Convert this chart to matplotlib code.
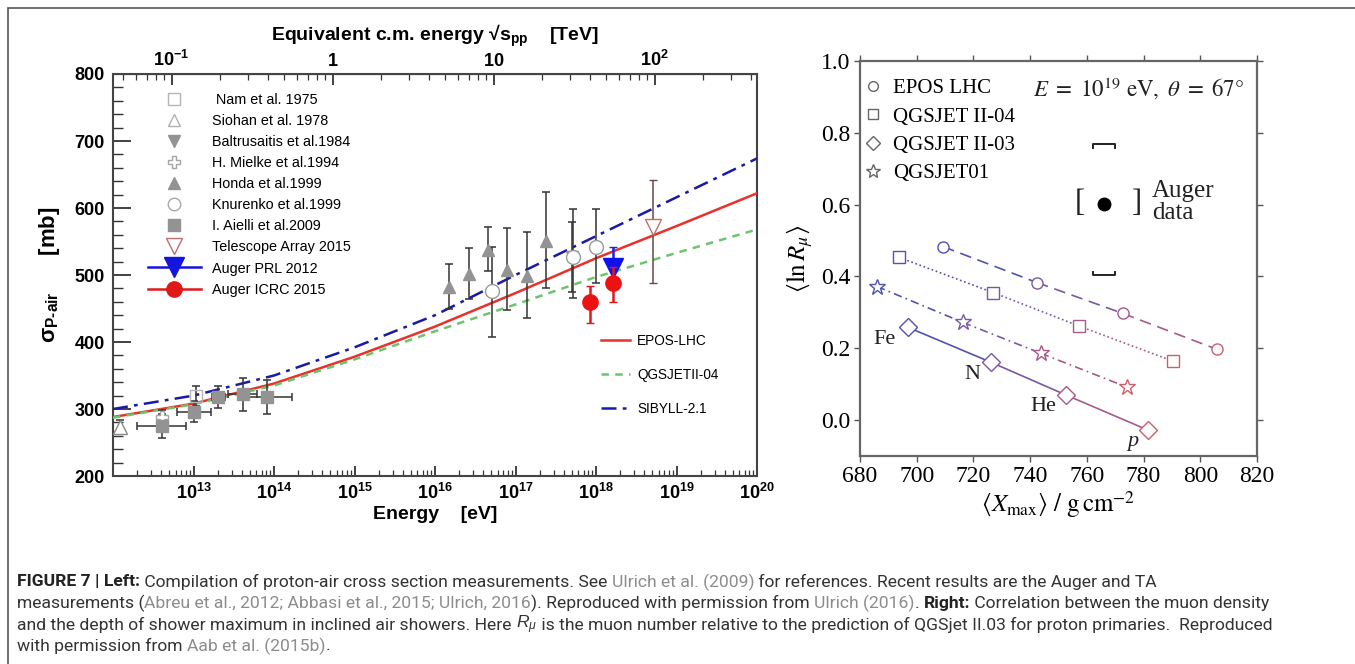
import matplotlib
matplotlib.use('Agg')
import matplotlib.pyplot as plt
from matplotlib.lines import Line2D
from matplotlib.patches import Rectangle
from matplotlib.ticker import LogLocator, NullFormatter, MultipleLocator
import numpy as np

plt.rcParams['font.family'] = ['Liberation Sans', 'DejaVu Sans']
plt.rcParams['mathtext.fontset'] = 'custom'
plt.rcParams['mathtext.rm'] = 'Liberation Sans'
plt.rcParams['mathtext.bf'] = 'Liberation Sans:bold'
plt.rcParams['mathtext.it'] = 'Liberation Sans:italic'

# ---------------- left panel: proton-air cross section ----------------
model_logE = [12, 13, 14, 15, 16, 17, 18, 19, 20]
epos_lhc = [288, 308, 338, 378, 423, 473, 525, 573, 622]
qgsjet_ii04 = [287, 307, 335, 374, 416, 456, 497, 533, 568]
sibyll_21 = [300, 320, 350, 392, 440, 500, 558, 616, 674]

nam_logE = [13.03]
nam_sig = [320]
nam_err = [15]

siohan_logE = [12.09]
siohan_sig = [273]
siohan_err = [11]

baltrusaitis_logE = [17.70]
baltrusaitis_sig = [527]
baltrusaitis_err = [52]

mielke_logE = [12.61]
mielke_sig = [288]
mielke_err = [10]

honda_logE = [16.17, 16.42, 16.66, 16.89, 17.14, 17.38]
honda_sig = [482, 501, 537, 507, 498, 551]
honda_lo = [33, 37, 31, 59, 62, 71]
honda_hi = [34, 39, 35, 63, 66, 73]

knurenko_logE = [16.71, 17.72, 18.00]
knurenko_sig = [476, 527, 542]
knurenko_lo = [68, 61, 54]
knurenko_hi = [66, 71, 56]

aielli_logE = [12.61, 13.01, 13.31, 13.61, 13.91]
aielli_sig = [275, 296, 318, 322, 318]
aielli_err = [18, 16, 16, 25, 26]
aielli_logE_lo = [12.30, 12.80, 13.23, 13.43, 13.61]
aielli_logE_hi = [12.91, 13.22, 13.39, 13.79, 14.22]

ta_logE = [18.71]
ta_sig = [572]
ta_lo = [84]
ta_hi = [70]

auger_prl_logE = [18.21]
auger_prl_sig = [510]
auger_prl_lo = [22]
auger_prl_hi = [32]

auger_icrc_logE = [17.92, 18.21]
auger_icrc_sig = [460, 488]
auger_icrc_lo = [32, 28]
auger_icrc_hi = [24, 24]

# ---------------- right panel: muon content vs Xmax ----------------
primaries = ['Fe', 'N', 'He', 'p']
epos_xmax = [709.3, 742.4, 772.7, 805.9]
epos_lnr = [0.483, 0.383, 0.297, 0.197]
qii04_xmax = [693.8, 727.0, 757.2, 790.4]
qii04_lnr = [0.453, 0.355, 0.262, 0.164]
qii03_xmax = [697.0, 726.2, 752.6, 781.6]
qii03_lnr = [0.258, 0.161, 0.070, -0.028]
q01_xmax = [686.0, 716.3, 743.8, 774.1]
q01_lnr = [0.372, 0.272, 0.186, 0.092]
label_xmax = [688.8, 719.8, 744.5, 776.3]
label_lnr = [0.225, 0.128, 0.039, -0.06]

auger_xmax = 766.0
auger_lnr = 0.603
auger_lnr_sys = [0.403, 0.769]
auger_xmax_sys = [757.6, 777.7]

fig = plt.figure(figsize=(13.55, 6.64), dpi=100)
W, H = 1355.0, 664.0

# frame around figure
fig.add_artist(Rectangle((8 / W, -0.1), 1.2, 1.1 - 8 / H, transform=fig.transFigure,
                         fill=False, edgecolor='#555555', lw=1.2))

# ======== left ========
ax = fig.add_axes([113 / W, 1 - 476 / H, 644 / W, 402 / H])
E = lambda lg: 10.0 ** np.asarray(lg)

ax.plot(E(model_logE), epos_lhc, '-', color='#e8312a', lw=1.8, zorder=3)
ax.plot(E(model_logE), qgsjet_ii04, '--', color='#6cc46c', lw=1.8, dashes=(3, 2.5), zorder=3)
ax.plot(E(model_logE), sibyll_21, '-.', color='#1a1aa8', lw=1.8, dashes=(6, 2.5, 1.5, 2.5), zorder=4)

ebar = dict(fmt='none', ecolor='#333333', elinewidth=1.1, capsize=3, capthick=1.1, zorder=5)
gray = '#939393'
ax.errorbar(E(nam_logE), nam_sig, yerr=nam_err, **ebar)
ax.plot(E(nam_logE), nam_sig, 's', mfc='none', mec='#b5b5b5', ms=8, zorder=6)
ax.errorbar(E(siohan_logE), siohan_sig, yerr=siohan_err, **ebar)
ax.plot(E(siohan_logE), siohan_sig, '^', mfc='white', mec='#8a8a8a', ms=10, zorder=6)
ax.errorbar(E(baltrusaitis_logE), baltrusaitis_sig, yerr=baltrusaitis_err, **ebar)
ax.plot(E(baltrusaitis_logE), baltrusaitis_sig, 'v', color=gray, ms=8, zorder=6)
ax.errorbar(E(mielke_logE), mielke_sig, yerr=mielke_err, **ebar)
ax.plot(E(mielke_logE), mielke_sig, 'P', mfc='white', mec='#a5a5a5', ms=9, zorder=6)
ax.errorbar(E(honda_logE), honda_sig, yerr=[honda_lo, honda_hi], **ebar)
ax.plot(E(honda_logE), honda_sig, '^', color=gray, ms=8, zorder=6)
ax.errorbar(E(knurenko_logE), knurenko_sig, yerr=[knurenko_lo, knurenko_hi], **ebar)
ax.plot(E(knurenko_logE), knurenko_sig, 'o', mfc='white', mec='#9a9a9a', ms=10, zorder=7)
a_x = E(aielli_logE)
ax.errorbar(a_x, aielli_sig, yerr=aielli_err,
            xerr=[a_x - E(aielli_logE_lo), E(aielli_logE_hi) - a_x], **ebar)
ax.plot(a_x, aielli_sig, 's', color=gray, ms=9, zorder=6)
ax.errorbar(E(ta_logE), ta_sig, yerr=[ta_lo, ta_hi], fmt='none', ecolor='#6a4a40',
            elinewidth=1.1, capsize=3, zorder=5)
ax.plot(E(ta_logE), ta_sig, 'v', mfc='white', mec='#c07070', ms=11, zorder=6)
ax.errorbar(E(auger_prl_logE), auger_prl_sig, yerr=[auger_prl_lo, auger_prl_hi], fmt='none',
            ecolor='#2020e0', elinewidth=1.8, capsize=3, zorder=5)
ax.plot(E(auger_prl_logE), auger_prl_sig, 'v', color='#1010ee', ms=14, zorder=6)
ax.errorbar(E(auger_icrc_logE), auger_icrc_sig, yerr=[auger_icrc_lo, auger_icrc_hi], fmt='none',
            ecolor='#e01818', elinewidth=1.8, capsize=3, zorder=7)
ax.plot(E(auger_icrc_logE), auger_icrc_sig, 'o', color='#ee1111', ms=11, zorder=8)

ax.set_xscale('log')
ax.set_xlim(1e12, 1e20)
ax.set_ylim(200, 800)
ax.set_xticks([10.0 ** k for k in range(13, 21)],
              [r'$\mathbf{10^{%d}}$' % k for k in range(13, 21)])
ax.xaxis.set_minor_locator(LogLocator(base=10, subs=np.arange(2, 10), numticks=20))
ax.xaxis.set_minor_formatter(NullFormatter())
ax.set_yticks(range(200, 801, 100))
ax.yaxis.set_minor_locator(MultipleLocator(20))
for lab in ax.get_yticklabels():
    lab.set_fontweight('bold')
ax.tick_params(axis='both', which='both', direction='in', top=False, right=False,
               labelsize=13, color='#333333')
ax.tick_params(axis='y', which='major', length=13, width=1.3, pad=6)
ax.tick_params(axis='y', which='minor', length=7, width=1.0)
ax.tick_params(axis='x', which='major', length=7, width=1.3, pad=5)
ax.tick_params(axis='x', which='minor', length=4, width=0.9)
for s in ax.spines.values():
    s.set_color('#444444')
    s.set_linewidth(1.5)
ax.set_xlabel('Energy    [eV]', fontsize=14, fontweight='bold', labelpad=2)
ax.set_ylabel('σ$_{\\mathbf{P‐air}}$      [mb]', fontsize=16, fontweight='bold', labelpad=9)

to_s = lambda e: np.sqrt(2 * 0.938e9 * np.clip(e, 1e-30, None)) / 1e12
to_e = lambda s: (np.asarray(s) * 1e12) ** 2 / (2 * 0.938e9)
sec = ax.secondary_xaxis('top', functions=(to_s, to_e))
sec.set_xticks([0.1, 1, 10, 100], [r'$\mathbf{10^{-1}}$', r'$\mathbf{1}$', r'$\mathbf{10}$',
                                   r'$\mathbf{10^{2}}$'])
sec.xaxis.set_minor_locator(LogLocator(base=10, subs=np.arange(2, 10), numticks=20))
sec.xaxis.set_minor_formatter(NullFormatter())
sec.tick_params(which='both', direction='in', labelsize=13, color='#333333')
sec.tick_params(which='major', length=8, width=1.3, pad=3)
sec.tick_params(which='minor', length=4, width=0.9)
sec.set_xlabel('Equivalent c.m. energy √s$_{\\mathbf{pp}}$    [TeV]', fontsize=14,
               fontweight='bold', labelpad=6)

h_data = [
    Line2D([], [], ls='none', marker='s', mfc='none', mec='#b5b5b5', ms=8),
    Line2D([], [], ls='none', marker='^', mfc='white', mec='#b0b0b0', ms=9),
    Line2D([], [], ls='none', marker='v', color=gray, ms=8),
    Line2D([], [], ls='none', marker='P', mfc='white', mec='#a5a5a5', ms=9),
    Line2D([], [], ls='none', marker='^', color=gray, ms=8),
    Line2D([], [], ls='none', marker='o', mfc='white', mec='#a8a8a8', ms=9),
    Line2D([], [], ls='none', marker='s', color=gray, ms=8),
    Line2D([], [], ls='none', marker='v', mfc='white', mec='#c07070', ms=11),
    Line2D([], [], color='#1515e0', lw=1.8, marker='v', ms=14),
    Line2D([], [], color='#e01818', lw=1.8, marker='o', ms=11),
]
l_data = [' Nam et al. 1975', 'Siohan et al. 1978', 'Baltrusaitis et al.1984',
          'H. Mielke et al.1994', 'Honda et al.1999', 'Knurenko et al.1999',
          'I. Aielli et al.2009', 'Telescope Array 2015', 'Auger PRL 2012', 'Auger ICRC 2015']
leg1 = ax.legend(h_data, l_data, loc='upper left', bbox_to_anchor=(0.054, 0.953), frameon=False,
                 fontsize=10.4, handlelength=3.7, handletextpad=0.75, labelspacing=0.49,
                 borderpad=0, borderaxespad=0)
ax.add_artist(leg1)
h_mod = [Line2D([], [], color='#e8312a', lw=1.8),
         Line2D([], [], color='#6cc46c', lw=1.8, ls='--', dashes=(3, 2.5)),
         Line2D([], [], color='#1a1aa8', lw=1.8, ls='-.', dashes=(6, 2.5, 1.5, 2.5))]
ax.legend(h_mod, ['EPOS-LHC', 'QGSJETII-04', 'SIBYLL-2.1'], loc='upper left',
          bbox_to_anchor=(0.757, 0.353), frameon=False, fontsize=9.8, handlelength=2.2,
          handletextpad=0.5, labelspacing=1.45, borderpad=0, borderaxespad=0)

# ======== right ========
serif = ['Liberation Serif', 'DejaVu Serif']
ax2 = fig.add_axes([860 / W, 1 - 456 / H, 397 / W, 395 / H])
pt_col = ['#5252b0', '#7a58a2', '#a85a88', '#d05e6a']
series = [
    (epos_xmax, epos_lnr, 'o', 8, (0, (7, 4))),
    (qii04_xmax, qii04_lnr, 's', 8, (0, (1, 1.6))),
    (qii03_xmax, qii03_lnr, 'D', 9, '-'),
    (q01_xmax, q01_lnr, '*', 12, (0, (5, 2.5, 1, 2.5))),
]
for xs, ys, mk, ms, ls in series:
    for i in range(len(xs) - 1):
        ax2.plot(xs[i:i + 2], ys[i:i + 2], ls=ls, color=pt_col[i], lw=1.2, zorder=2)
    for i in range(len(xs)):
        ax2.plot(xs[i], ys[i], marker=mk, ms=ms, mfc='white', mec=pt_col[i], mew=1.0,
                 ls='none', zorder=3)
for i, name in enumerate(primaries):
    ax2.text(label_xmax[i], label_lnr[i], name, fontsize=16, family=serif,
             style='italic' if name == 'p' else 'normal', ha='center', va='center',
             color='#222222')

ax2.plot(auger_xmax, auger_lnr, 'o', color='black', ms=9, zorder=4)
for yv, d in [(auger_lnr_sys[1], -0.012), (auger_lnr_sys[0], 0.010)]:
    ax2.plot([auger_xmax - 4, auger_xmax - 4, auger_xmax + 4, auger_xmax + 4],
             [yv + d, yv, yv, yv + d], color='#222222', lw=1.4)
ax2.text(auger_xmax_sys[0], auger_lnr, '[', fontsize=22, family=serif, ha='center',
         va='center', color='#222222')
ax2.text(auger_xmax_sys[1], auger_lnr, ']', fontsize=22, family=serif, ha='center',
         va='center', color='#222222')
ax2.text(783, auger_lnr + 0.003, 'Auger\ndata', fontsize=18, family=serif, ha='left',
         va='center', linespacing=1.0, color='#222222')
ax2.text(815.5, 0.925, r'$E\ =\ 10^{19}\ \mathrm{eV},\ \theta\ =\ 67°$', fontsize=16.5,
         ha='right', va='center', math_fontfamily='stix', color='#222222')

ax2.set_xlim(680, 820)
ax2.set_ylim(-0.1, 1.0)
ax2.set_xticks(range(680, 821, 20))
ax2.set_yticks([0.0, 0.2, 0.4, 0.6, 0.8, 1.0], ['0.0', '0.2', '0.4', '0.6', '0.8', '1.0'])
ax2.tick_params(direction='out', length=4, width=1.0, top=True, right=True,
                labelsize=17, color='#555555', pad=3)
for lab in ax2.get_xticklabels() + ax2.get_yticklabels():
    lab.set_family(serif)
for s in ax2.spines.values():
    s.set_color('#666666')
    s.set_linewidth(1.6)
ax2.set_xlabel(r'$\langle X_{\mathrm{max}} \rangle\ /\ \mathrm{g\,cm}^{-2}$', fontsize=18,
               math_fontfamily='stix', labelpad=2)
ax2.set_ylabel(r'$\langle \ln R_{\mu} \rangle$', fontsize=18, math_fontfamily='stix',
               labelpad=4)

mk_col = '#666666'
h_r = [Line2D([], [], ls='none', marker='o', ms=7, mfc='white', mec=mk_col),
       Line2D([], [], ls='none', marker='s', ms=7, mfc='white', mec=mk_col),
       Line2D([], [], ls='none', marker='D', ms=7, mfc='white', mec=mk_col),
       Line2D([], [], ls='none', marker='*', ms=10, mfc='white', mec=mk_col)]
ax2.legend(h_r, ['EPOS LHC', 'QGSJET II-04', 'QGSJET II-03', 'QGSJET01'], loc='upper left',
           bbox_to_anchor=(0.01, 0.955), frameon=False, handlelength=0.9, handletextpad=0.5,
           labelspacing=0.42, borderpad=0, borderaxespad=0,
           prop={'family': serif, 'size': 15})

# ======== caption ========
renderer = fig.canvas.get_renderer()
cap_font = ['Roboto', 'Liberation Sans', 'DejaVu Sans']
cap_size = 12.6
N, B, L = '#333333', 'bold', '#8c8c8c'
caption = [
    [('FIGURE 7 | Left:', B), (' Compilation of proton-air cross section measurements. See ', N),
     ('Ulrich et al. (2009)', L), (' for references. Recent results are the Auger and TA', N)],
    [('measurements (', N), ('Abreu et al., 2012; Abbasi et al., 2015; Ulrich, 2016', L),
     ('). Reproduced with permission from ', N), ('Ulrich (2016)', L), ('. ', N),
     ('Right:', B), (' Correlation between the muon density', N)],
    [('and the depth of shower maximum in inclined air showers. Here ', N), (r'$R_\mu$', N),
     (' is the muon number relative to the prediction of QGSjet II.03 for proton primaries.  '
      'Reproduced', N)],
    [('with permission from ', N), ('Aab et al. (2015b)', L), ('.', N)],
]
for row, parts in enumerate(caption):
    x = 17.0
    y = 1 - (582 + 21.3 * row) / H
    for txt, st in parts:
        bold = st == B
        t = fig.text(x / W, y, txt, fontsize=cap_size, family=cap_font,
                     fontweight='bold' if bold else 'normal',
                     color='#222222' if bold else st, va='center', ha='left')
        x += t.get_window_extent(renderer).width

fig.savefig('out.png', dpi=100)
